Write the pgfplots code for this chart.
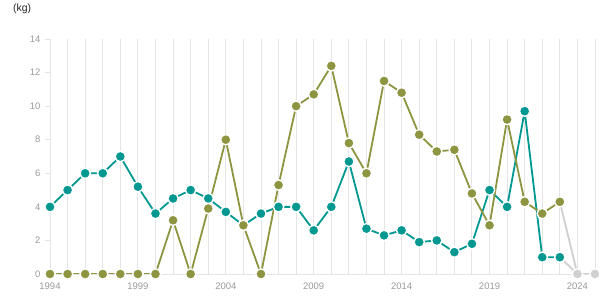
\documentclass[border=0pt]{standalone}
\usepackage{pgfplots}
\pgfplotsset{compat=1.18}
\usepackage{fontspec}
\setmainfont{Liberation Sans}
\definecolor{tealc}{RGB}{0,152,144}
\definecolor{olivec}{RGB}{141,149,64}
\definecolor{greyc}{RGB}{208,208,208}
\definecolor{gridc}{RGB}{228,228,228}
\definecolor{tickc}{RGB}{153,153,153}
\begin{document}
\begin{tikzpicture}
\useasboundingbox (0,0) rectangle (615bp,305bp);
\node[anchor=west, font=\fontsize{10.5}{10.5}\selectfont, text=black!85, inner sep=0pt] at (13bp,296bp) {(kg)};
\begin{axis}[
  scale only axis, width=545bp, height=235bp,
  at={(50bp,31bp)}, anchor=south west,
  xmin=1994, xmax=2025, ymin=0, ymax=14,
  clip=false,
  axis x line*=bottom,
  axis y line*=left,
  axis line style={draw=gridc, line width=0.8bp, -},
  x axis line style={draw=none},
  xtick={1994,1999,...,2024},
  minor xtick={1994,...,2025},
  xminorgrids,
  minor grid style={draw=gridc, line width=0.8bp},
  major x tick style={draw=none},
  minor x tick style={draw=none},
  ytick={0,2,...,14},
  tick align=outside,
  ytick pos=left,
  major tick length=5bp,
  y tick style={draw=gridc, line width=0.8bp},
  ticklabel style={font=\fontsize{9.5}{9.5}\selectfont, text=tickc},
  /pgf/number format/assume math mode=true,
  xticklabel style={/pgf/number format/1000 sep={}, yshift=-0.5bp},
  yticklabel style={xshift=-1bp},
  mymark/.style={mark=*, mark size=5.2bp, mark options={draw=white, line width=1.4bp, solid, fill=#1}},
]
% grey transitions to 2024
\addplot[greyc, line width=1.8bp] coordinates {(2023,1.0) (2024,0)};
\addplot[greyc, line width=1.8bp] coordinates {(2023,4.3) (2024,0) (2025,0)};
% teal series
\addplot[tealc, line width=1.8bp, mymark=tealc] coordinates {
(1994,4.0) (1995,5.0) (1996,6.0) (1997,6.0) (1998,7.0) (1999,5.2) (2000,3.6)
(2001,4.5) (2002,5.0) (2003,4.5) (2004,3.7) (2005,2.9) (2006,3.6) (2007,4.0)
(2008,4.0) (2009,2.6) (2010,4.0) (2011,6.7) (2012,2.7) (2013,2.3) (2014,2.6)
(2015,1.9) (2016,2.0) (2017,1.3) (2018,1.8) (2019,5.0) (2020,4.0) (2021,9.7)
(2022,1.0) (2023,1.0)};
% olive series
\addplot[olivec, line width=1.8bp, mymark=olivec] coordinates {
(1994,0) (1995,0) (1996,0) (1997,0) (1998,0) (1999,0) (2000,0)
(2001,3.2) (2002,0) (2003,3.9) (2004,8.0) (2005,2.9) (2006,0) (2007,5.3)
(2008,10.0) (2009,10.7) (2010,12.4) (2011,7.8) (2012,6.0) (2013,11.5) (2014,10.8)
(2015,8.3) (2016,7.3) (2017,7.4) (2018,4.8) (2019,2.9) (2020,9.2) (2021,4.3)
(2022,3.6) (2023,4.3)};
% grey markers
\addplot[greyc, line width=1.8bp, mymark=greyc] coordinates {(2024,0) (2025,0)};
% baseline
\draw[gridc, line width=0.8bp] (axis cs:1994,0) -- (axis cs:2025,0);
\end{axis}
\end{tikzpicture}
\end{document}
